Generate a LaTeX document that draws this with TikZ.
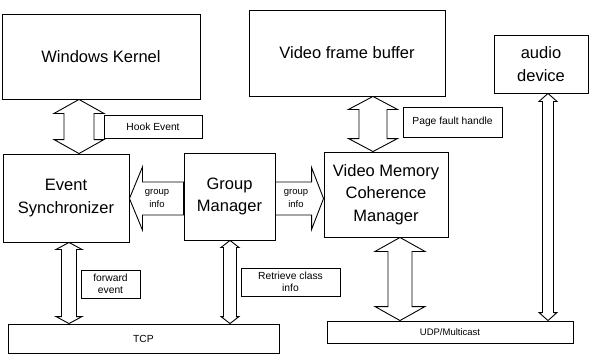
\documentclass[tikz,border=0pt]{standalone}
\usepackage{fontspec}
\setmainfont{Liberation Sans}
\usepackage{tikz}
\usetikzlibrary{calc}
\tikzset{block/.style = {draw, line width = 0.9, align = center, inner sep = 0,
    font = \fontsize{16.5}{22.5}\selectfont}}
\tikzset{tag/.style = {draw, line width = 0.9, align = center, inner sep = 0,
    font = \fontsize{10.3}{12.5}\selectfont}}
\tikzset{fat/.style = {draw, line width = 0.9, line join = miter}}
\tikzset{note/.style = {align = center, inner sep = 0, font = \fontsize{9.5}{13}\selectfont}}

% vertical two-headed fat arrow: axis x, top anchor, bottom anchor, head, shaft, head length
\newcommand{\vfat}[6]{%
  \draw [fat] let \p1 = #2, \p2 = #3 in
    (#1pt, \y1) -- (#1pt+#4pt, \y1-#6pt) -- (#1pt+#5pt, \y1-#6pt)
    -- (#1pt+#5pt, \y2+#6pt) -- (#1pt+#4pt, \y2+#6pt) -- (#1pt, \y2)
    -- (#1pt-#4pt, \y2+#6pt) -- (#1pt-#5pt, \y2+#6pt)
    -- (#1pt-#5pt, \y1-#6pt) -- (#1pt-#4pt, \y1-#6pt) -- cycle;}
% horizontal one-headed fat arrow: axis y, tip anchor, tail anchor, head, shaft, signed head length
\newcommand{\hfat}[6]{%
  \draw [fat] let \p1 = #2, \p2 = #3 in
    (\x1, -#1pt) -- (\x1+#6pt, -#1pt+#4pt) -- (\x1+#6pt, -#1pt+#5pt)
    -- (\x2, -#1pt+#5pt) -- (\x2, -#1pt-#5pt) -- (\x1+#6pt, -#1pt-#5pt)
    -- (\x1+#6pt, -#1pt-#4pt) -- cycle;}

\begin{document}
\begin{tikzpicture}[x = 1pt, y = -1pt]
  \useasboundingbox (0, 0) rectangle (590, 356);

  \node [block, minimum width = 198, minimum height = 85] (kernel) at (101, 56.5) {Windows Kernel};
  \node [block, minimum width = 196, minimum height = 86] (frame) at (347, 53) {Video frame buffer};
  \node [block, minimum width = 94, minimum height = 58] (audio) at (541, 64) {audio\\device};

  \node [tag, minimum width = 98, minimum height = 23] (hook) at (153, 126.5) {Hook Event};
  \node [tag, minimum width = 99, minimum height = 30] (fault) at (452.5, 122) {Page fault handle};

  \node [block, minimum width = 126, minimum height = 88] (sync) at (66, 198) {Event\\Synchronizer};
  \node [block, minimum width = 91, minimum height = 87] (group) at (229.5, 196.5) {Group\\Manager};
  \node [block, minimum width = 124, minimum height = 85] (vmcm) at (386, 194.5) {Video Memory\\Coherence\\Manager};

  \node [tag, minimum width = 59, minimum height = 28] (forward) at (110.5, 284) {forward\\event};
  \node [tag, minimum width = 99, minimum height = 28] (retrieve) at (290.5, 282) {Retrieve class\\info};

  \node [tag, minimum width = 271, minimum height = 29] (tcp) at (143.5, 338.5) {TCP};
  \node [tag, minimum width = 246, minimum height = 22, font = \fontsize{9.5}{11}\selectfont] (udp) at (450, 332) {UDP/Multicast};

  \vfat{79}{(kernel.south)}{(sync.north)}{25}{15}{14}
  \vfat{373}{(frame.south)}{(vmcm.north)}{24.5}{14}{13}
  \vfat{69}{(sync.south)}{(tcp.north)}{13}{7.5}{7}
  \vfat{230}{(group.south)}{(tcp.north)}{9}{6.5}{7}
  \vfat{400}{(vmcm.south)}{(udp.north)}{25}{12}{14}
  \vfat{548}{(audio.south)}{(udp.north)}{9}{5.5}{8}

  \hfat{198.5}{(sync.east)}{(group.west)}{31.5}{16.5}{13}
  \hfat{198.5}{(vmcm.west)}{(group.east)}{31}{16.5}{-12}
  \node [note] (infoleft) at (157, 198.5) {group\\info};
  \node [note] (inforight) at (296, 198.5) {group\\info};
\end{tikzpicture}
\end{document}
